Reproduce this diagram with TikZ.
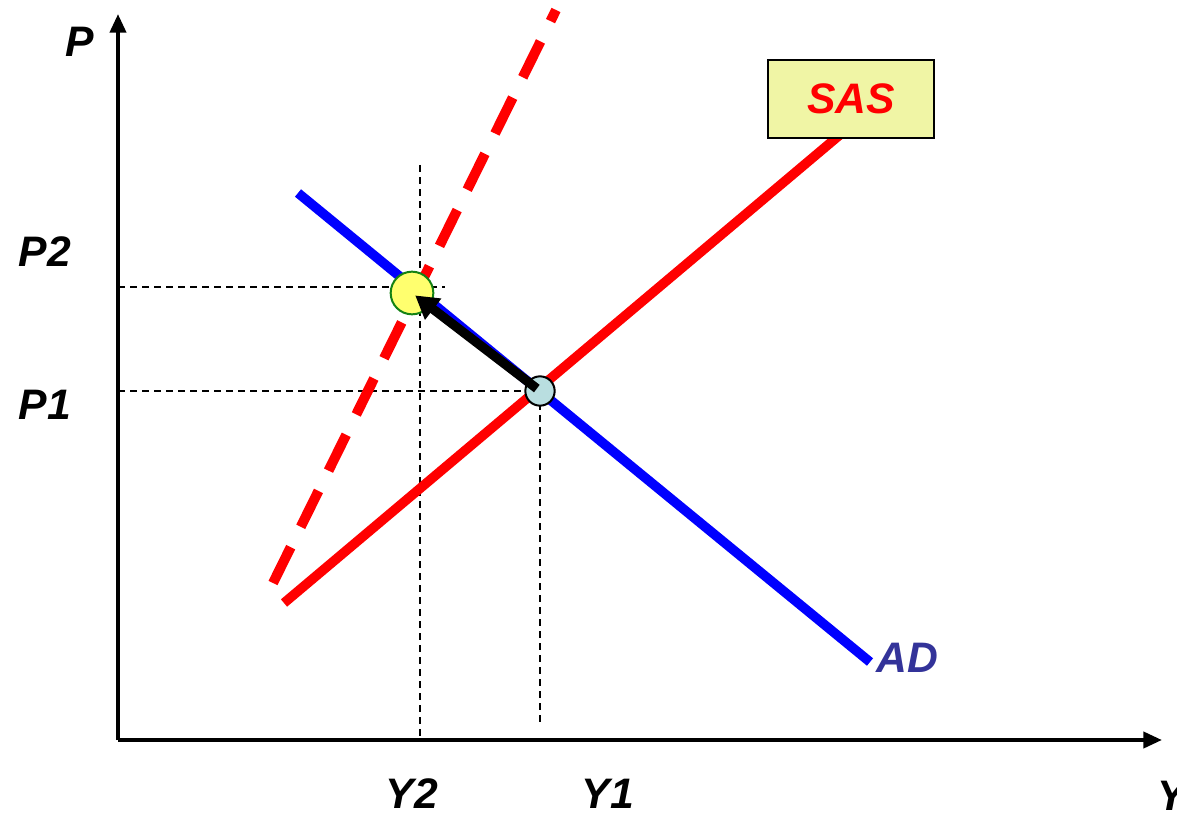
\documentclass[tikz,border=0pt]{standalone}
\usepackage{fontspec}
\setmainfont{Liberation Sans}
\usepackage{xcolor}
\usetikzlibrary{arrows.meta, positioning}

\definecolor{adBlue}{RGB}{0,0,255}
\definecolor{adText}{RGB}{51,51,153}
\definecolor{sasRed}{RGB}{255,0,0}
\definecolor{boxYellow}{RGB}{240,245,165}
\definecolor{eqYellow}{RGB}{255,255,110}
\definecolor{eqGreen}{RGB}{20,130,20}
\definecolor{eqBlue}{RGB}{185,222,224}

\begin{document}
\begin{tikzpicture}[
  x=0.75pt, y=-0.75pt,
  font=\fontsize{32}{38}\selectfont\bfseries\itshape,
  axisLine/.style={draw, line width=3pt, -{Triangle[length=14pt, width=12pt]}},
  guideLine/.style={draw, line width=0.9pt, dash pattern=on 5pt off 4pt},
  adLine/.style={draw=adBlue, line width=7.2pt},
  sasLine/.style={draw=sasRed, line width=7.2pt},
  sasShift/.style={draw=sasRed, line width=7.5pt, dash pattern=on 30pt off 17pt},
  labelBox/.style={rectangle, draw, line width=1.6pt, fill=boxYellow, minimum width=125pt, minimum height=58pt, inner sep=0pt},
  oldEq/.style={circle, draw, line width=1.5pt, fill=eqBlue, minimum size=22pt, inner sep=0pt},
  newEq/.style={circle, draw=eqGreen, line width=1.5pt, fill=eqYellow, minimum size=32pt, inner sep=0pt},
  moveArrow/.style={draw, line width=7pt, -{Triangle[length=17pt, width=19pt]}, shorten <=3pt, shorten >=3pt}
]
  \useasboundingbox (0,0) rectangle (1177,813);

  % axes
  \coordinate (origin) at (118,740);
  \coordinate (ptop) at (118,14);
  \coordinate (yend) at (1162,740);
  \draw [axisLine] (origin) -- (ptop);
  \draw [axisLine] (origin) -- (yend);
  \node (plabel) at (80,42) {P};
  \node (ylabel) at (1172,796) {Y};

  % guides
  \coordinate (p2left) at (118,287);
  \coordinate (p2right) at (445,287);
  \coordinate (p1left) at (118,391);
  \coordinate (y2top) at (420,165);
  \coordinate (y2bot) at (420,740);
  \coordinate (y1bot) at (540,725);
  \draw [guideLine] (p2left) -- (p2right);
  \draw [guideLine] (y2top) -- (y2bot);
  \draw [guideLine] (p1left) -- (540,391);
  \draw [guideLine] (540,391) -- (y1bot);
  \node (p2label) at (45,252) {P2};
  \node (p1label) at (45,405) {P1};
  \node (y2label) at (412,794) {Y2};
  \node (y1label) at (608,794) {Y1};

  % curves
  \coordinate (sasShiftLow) at (273,583);
  \coordinate (sasShiftHigh) at (556,10);
  \draw [sasShift] (sasShiftLow) -- (sasShiftHigh);
  \coordinate (sasLow) at (284,603);
  \coordinate (sasHigh) at (848,128);
  \draw [sasLine] (sasLow) -- (sasHigh);
  \coordinate (adHigh) at (298,193);
  \coordinate (adLow) at (870,662);
  \draw [adLine] (adHigh) -- (adLow);
  \node [labelBox] (sasbox) at (851,99) {\textcolor{sasRed}{SAS}};
  \node [text=adText, anchor=west] (adlabel) at (872,658) {AD};

  % equilibria
  \node [oldEq] (eqOne) at (540,391) {};
  \node [newEq] (eqTwo) at (412,293) {};
  \draw [moveArrow] (eqOne.center) -- (eqTwo.center);
\end{tikzpicture}
\end{document}
